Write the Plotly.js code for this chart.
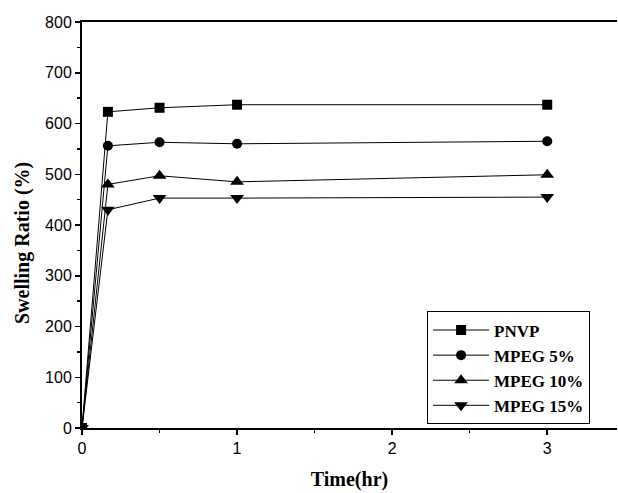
<!DOCTYPE html>
<html>
<head>
<meta charset="utf-8">
<script src="https://cdn.plot.ly/plotly-3.0.1.min.js"></script>
<style>html,body{margin:0;padding:0;background:#fff}</style>
</head>
<body>
<div id="chart" style="width:618px;height:493px"></div>
<script>
const time = [0, 0.167, 0.5, 1, 3];
const seriesNames = ["PNVP", "MPEG 5%", "MPEG 10%", "MPEG 15%"];
const pnvp = [0, 623, 631, 637, 637];
const mpeg5 = [0, 556, 563, 560, 565];
const mpeg10 = [0, 480, 497, 485, 499];
const mpeg15 = [0, 430, 453, 453, 455];
const xTickVals = [0, 1, 2, 3];
const yTickVals = [0, 100, 200, 300, 400, 500, 600, 700, 800];

const symbols = ["square", "circle", "triangle-up", "triangle-down"];
const sizes = [10, 10, 12, 12];
const values = [pnvp, mpeg5, mpeg10, mpeg15];
const traces = values.map((v, i) => ({
  x: time, y: v, name: seriesNames[i], type: "scatter", mode: "lines+markers",
  line: {color: "#000", width: 1},
  marker: {symbol: symbols[i], size: sizes[i], color: "#000"}
}));

const serif = "Liberation Serif, Times New Roman, serif";
const sans = "Liberation Sans, Arial, sans-serif";

const layout = {
  width: 618, height: 493,
  margin: {l: 82, r: 1, t: 22, b: 65},
  paper_bgcolor: "#fff", plot_bgcolor: "#fff",
  showlegend: true,
  legend: {
    x: 0.645, y: 0.287, xanchor: "left", yanchor: "top",
    bordercolor: "#000", borderwidth: 1, bgcolor: "#fff",
    font: {family: serif, size: 17, color: "#000", weight: "bold"},
    tracegroupgap: 0, itemwidth: 56
  },
  xaxis: {
    range: [0, 3.45], tickvals: xTickVals, ticktext: xTickVals.map(String),
    ticks: "outside", ticklen: 5, tickwidth: 1.5, tickcolor: "#000",
    showline: true, linecolor: "#000", linewidth: 2, mirror: true,
    showgrid: false, zeroline: false,
    minor: {dtick: 0.5, ticks: "outside", ticklen: 3, tickcolor: "#000"},
    tickfont: {family: sans, size: 16, color: "#000"},
    title: {text: "Time(hr)", standoff: 16,
      font: {family: serif, size: 20, color: "#000", weight: "bold"}}
  },
  yaxis: {
    range: [0, 800], tickvals: yTickVals, ticktext: yTickVals.map(String),
    ticks: "outside", ticklen: 5, tickwidth: 1.5, tickcolor: "#000",
    showline: true, linecolor: "#000", linewidth: 2, mirror: false,
    showgrid: false, zeroline: false,
    minor: {dtick: 50, ticks: "outside", ticklen: 3, tickcolor: "#000"},
    tickfont: {family: sans, size: 16, color: "#000"}
  },
  annotations: [{
    text: "Swelling Ratio (%)", textangle: -90, showarrow: false,
    xref: "paper", yref: "paper", x: -0.110, y: 0.456,
    xanchor: "center", yanchor: "middle",
    font: {family: serif, size: 20, color: "#000", weight: "bold"}
  }]
};
Plotly.newPlot("chart", traces, layout, {displayModeBar: false, staticPlot: true});
</script>
</body>
</html>
